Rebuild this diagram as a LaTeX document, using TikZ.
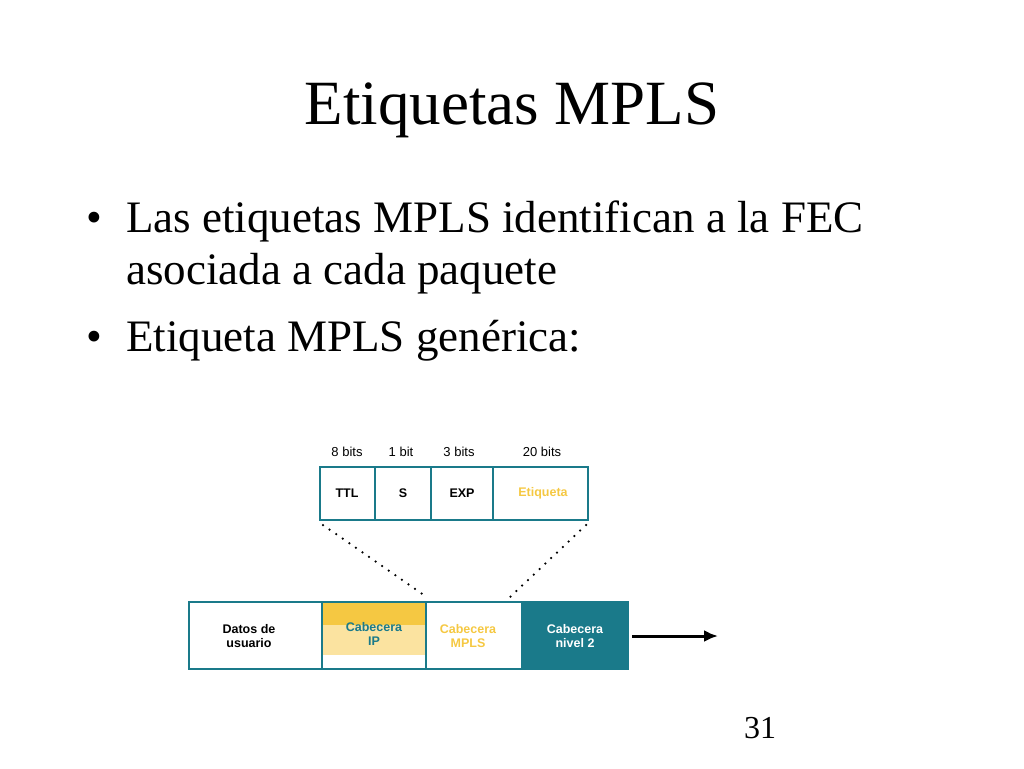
\documentclass[tikz,border=0pt]{standalone}
\usepackage{fontspec}
\usetikzlibrary{arrows.meta}
\setmainfont{Liberation Serif}
\newfontfamily\dsans{Liberation Sans}
\begin{document}
\begin{tikzpicture}[x=1pt,y=-1pt,
  txt/.style={anchor=base west,inner sep=0pt,font=\fontsize{45}{50}\selectfont},
  small/.style={font=\dsans\fontsize{13}{14}\selectfont,align=center,inner sep=0pt},
  lab/.style={small,font=\dsans\bfseries\fontsize{12.5}{13.5}\selectfont},
  dots/.style={line width=2.5pt,line cap=round,dash pattern=on 0pt off 8pt}]
\definecolor{tealc}{HTML}{1A7A8A}
\definecolor{yd}{HTML}{F5C842}
\definecolor{yl}{HTML}{FBE3A0}
\useasboundingbox (0,0) rectangle (1024,768);
\node[inner sep=0pt,font=\fontsize{63}{70}\selectfont] (title) at (512,110) {Etiquetas MPLS};
\node[txt] (b1) at (86,232) {•};
\node[txt] (t1) at (126,232) {Las etiquetas MPLS identifican a la FEC};
\node[txt] (t1b) at (126,284) {asociada a cada paquete};
\node[txt] (b2) at (86,351) {•};
\node[txt] (t2) at (126,351) {Etiqueta MPLS genérica:};
\node[inner sep=0pt,font=\fontsize{32}{36}\selectfont] (pg) at (760,728) {31};
\foreach \x/\t/\n in {347/8 bits/a,401/1 bit/b,459/3 bits/c,542/20 bits/d}
  \node[small] (bits\n) at (\x,452) {\t};
\fill[yd] (322,602) rectangle (426,625);
\fill[yl] (322,625) rectangle (426,655);
\fill[tealc] (522,602) rectangle (628,669);
\draw[tealc,line width=1.8pt] (320,467) rectangle (588,520);
\foreach \x in {375,431,493} \draw[tealc,line width=1.8pt] (\x,467) -- (\x,520);
\draw[tealc,line width=1.8pt] (189,602) rectangle (628,669);
\foreach \x in {322,426,522} \draw[tealc,line width=1.8pt] (\x,602) -- (\x,669);
\node[lab] (ttl) at (347,493) {TTL};
\node[lab] (s) at (403,493) {S};
\node[lab] (exp) at (462,493) {EXP};
\node[lab,text=yd] (et) at (543,493) {Etiqueta};
\node[lab] (dat) at (249,636) {Datos de\\usuario};
\node[lab,text=tealc] (ip) at (374,634) {Cabecera\\IP};
\node[lab,text=yd] (mpls) at (468,636) {Cabecera\\MPLS};
\node[lab,text=white] (n2) at (575,636) {Cabecera\\nivel 2};
\coordinate (d1) at (323,525); \coordinate (d2) at (428,598);
\coordinate (d3) at (586,525); \coordinate (d4) at (509,598);
\draw[dots] (d1) -- (d2);
\draw[dots] (d3) -- (d4);
\coordinate (a1) at (632,636); \coordinate (a2) at (718,636);
\draw[line width=3pt,-{Latex[length=14pt,width=12pt]}] (a1) -- (a2);
\end{tikzpicture}
\end{document}
